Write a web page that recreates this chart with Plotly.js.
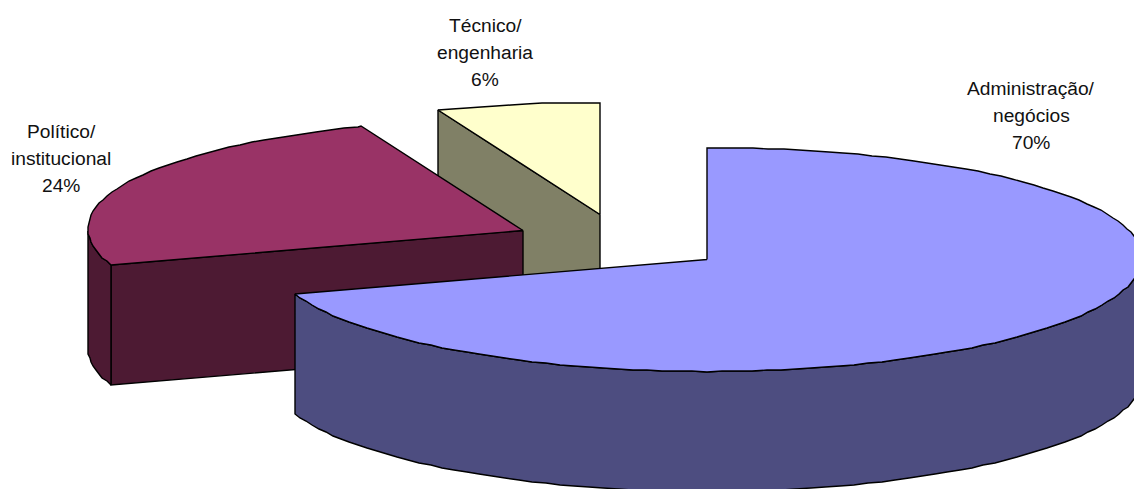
<!DOCTYPE html>
<html lang="pt">
<head>
<meta charset="utf-8">
<title>Formação</title>
<script src="https://cdn.plot.ly/plotly-3.0.1.min.js"></script>
<style>html,body{margin:0;padding:0;background:#fff}#chart{width:1134px;height:489px}</style>
</head>
<body>
<div id="chart"></div>
<script>
// Shares of each category, clockwise from twelve o'clock
const categories = ['Administração/', 'Político/', 'Técnico/'];
const subLabels = ['negócios', 'institucional', 'engenharia'];
const shares = [70, 24, 6];

// Slice colours: top face and shaded side walls
const topColors = ['#9999FF', '#993366', '#FFFFCC'];
const wallColors = ['#4D4D80', '#4D1A33', '#808066'];

// Exploded position of each slice's apex and centre of its label block
const apexX = [707, 523, 600];
const apexY = [259.5, 230.5, 214.5];
const labelX = [1031, 61, 485];
const labelY = [115, 158, 52];

// Disc projection: ellipse radii, slight perspective, extrusion depth, rim sampling step, label leading
const RX = 435, RY = 112, PERSPECTIVE = 0.015, DEPTH = 120, STEP = 2, LEADING = 27;
const rad = d => d * Math.PI / 180;

// Project a clockwise angle on the disc onto the page
function rimPoint(i, deg) {
  const c = Math.cos(rad(deg));
  return [
    Math.round(apexX[i] + RX * (1 + PERSPECTIVE * c) * Math.sin(rad(deg))),
    Math.round(apexY[i] - RY * c)
  ];
}

function arc(i, from, to) {
  const pts = [];
  for (let a = from; a < to; a += STEP) pts.push(rimPoint(i, a));
  pts.push(rimPoint(i, to));
  return pts;
}

function polygon(pts, fill) {
  return {
    type: 'scatter', mode: 'lines', hoverinfo: 'skip', showlegend: false,
    x: pts.map(p => p[0]).concat(pts[0][0]),
    y: pts.map(p => p[1]).concat(pts[0][1]),
    fill: 'toself', fillcolor: fill,
    line: {color: '#000', width: 1.4, simplify: false}
  };
}

const lowered = pts => pts.map(p => [p[0], p[1] + DEPTH]);

// Cumulative slice angles
const bounds = [];
let running = 0;
shares.forEach(s => {
  bounds.push([running * 3.6, (running + s) * 3.6]);
  running += s;
});

// Painted from the back slice to the front one
const traces = [];
for (let i = shares.length - 1; i >= 0; i--) {
  const [start, end] = bounds[i];
  const apex = [apexX[i], apexY[i]];

  // Flat cut faces turned toward the viewer
  if (Math.sin(rad(start)) < -1e-6) {
    const edge = [apex, rimPoint(i, start)];
    traces.push(polygon(edge.concat(lowered(edge).reverse()), wallColors[i]));
  }
  if (Math.sin(rad(end)) > 1e-6) {
    const edge = [apex, rimPoint(i, end)];
    traces.push(polygon(edge.concat(lowered(edge).reverse()), wallColors[i]));
  }

  // Curved outer wall on the front half of the disc
  const wallFrom = Math.max(start, 90), wallTo = Math.min(end, 270);
  if (wallFrom < wallTo) {
    const rim = arc(i, wallFrom, wallTo);
    traces.push(polygon(rim.concat(lowered(rim).reverse()), wallColors[i]));
  }

  // Top face
  traces.push(polygon([apex].concat(arc(i, start, end)), topColors[i]));
}

// Three-line labels: name, qualifier, percentage
const annotations = [];
categories.forEach((name, i) => {
  [name, subLabels[i], shares[i] + '%'].forEach((line, k) => {
    annotations.push({
      x: labelX[i], y: labelY[i] + (k - 1) * LEADING,
      xref: 'x', yref: 'y', text: line, showarrow: false,
      xanchor: 'center', yanchor: 'middle',
      font: {family: '"Liberation Sans", Arial, sans-serif', size: 19.2, color: '#111'}
    });
  });
});

const layout = {
  width: 1134, height: 489,
  margin: {l: 0, r: 0, t: 0, b: 0},
  paper_bgcolor: '#fff', plot_bgcolor: '#fff',
  showlegend: false,
  xaxis: {visible: false, range: [0, 1134], fixedrange: true},
  yaxis: {visible: false, range: [489, 0], fixedrange: true},
  annotations
};

Plotly.newPlot('chart', traces, layout, {displayModeBar: false, staticPlot: true});
</script>
</body>
</html>
